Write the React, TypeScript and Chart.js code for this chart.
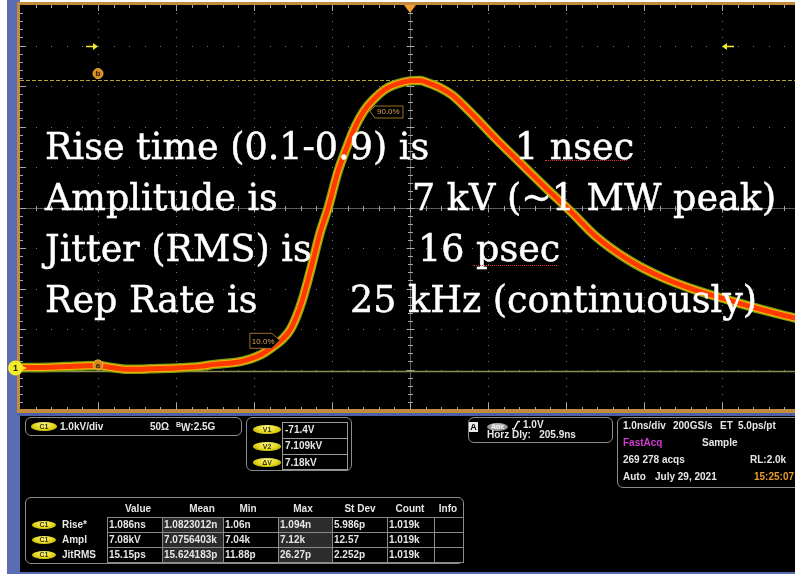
import React, { useEffect, useRef } from "react";
import { Chart, registerables } from "chart.js";
Chart.register(...registerables);

// ---- waveform (1.0 ns/div, 1.0 kV/div, trigger at centre) ----
const timeNs = [
  -5.0, -4.62, -4.23, -4.0, -3.85, -3.62, -3.33, -3.0, -2.69, -2.5, -2.18, -1.92,
  -1.76, -1.63, -1.54, -1.46, -1.385, -1.27, -1.154, -1.05, -0.923, -0.82, -0.705,
  -0.59, -0.474, -0.32, -0.19, 0.0, 0.13, 0.23, 0.385, 0.54, 0.667, 0.833, 1.09,
  1.385, 1.73, 2.08, 2.37, 2.8, 3.23, 3.65, 4.08, 4.51, 4.94, 5.0,
];
const pulseKV = [
  0.01, 0.02, 0.05, 0.06, 0.02, -0.03, -0.02, 0.0, 0.04, 0.09, 0.155, 0.32,
  0.52, 0.72, 0.93, 1.25, 1.65, 2.45, 3.33, 3.95, 4.85, 5.4, 5.95,
  6.35, 6.62, 6.88, 7.0, 7.09, 7.1, 7.04, 6.92, 6.74, 6.52, 6.2, 5.68,
  5.12, 4.47, 3.83, 3.27, 2.67, 2.24, 1.93, 1.68, 1.44, 1.23, 1.2,
];
const X_MIN = -5, X_MAX = 5;
const Y_MIN = -1.037, Y_MAX = 8.963;
const cursorA = -0.0714; // kV
const cursorB = 7.109; // kV
const cursorT = -4; // ns (cursor label column)
const gateT = [-4, 4];
const t10 = -1.63, t90 = -0.59;
const level10 = 0.708, level90 = 6.37;

// ---- overlay text ----
const bigLeft = ["Rise time (0.1-0.9) is", "Amplitude is", "Jitter (RMS) is", "Rep Rate is"];
const bigRight = ["1 nsec", "7 kV (~1 MW peak)", "16 psec", "25 kHz (continuously)"];

// ---- readout panels ----
const cursorLabels = ["V1", "V2", "ΔV"];
const cursorReadouts = ["-71.4V", "7.109kV", "7.18kV"];
const measHeaders = ["Value", "Mean", "Min", "Max", "St Dev", "Count", "Info"];
const measNames = ["Rise*", "Ampl", "JitRMS"];
const measValue = ["1.086ns", "7.08kV", "15.15ps"];
const measMean = ["1.0823012n", "7.0756403k", "15.624183p"];
const measMin = ["1.06n", "7.04k", "11.88p"];
const measMax = ["1.094n", "7.12k", "26.27p"];
const measStdDev = ["5.986p", "12.57", "2.252p"];
const measCount = ["1.019k", "1.019k", "1.019k"];
const measInfo = ["", "", ""];

const PF = '"Liberation Sans", Arial, sans-serif';

const scopePlugin = {
  id: "scope",
  beforeDatasetsDraw(chart: any) {
    const { ctx, chartArea: a, scales } = chart;
    const L = a.left, T = a.top, R = a.right, B = a.bottom;
    const dx = (R - L) / 10, dy = (B - T) / 10;
    ctx.save();
    ctx.fillStyle = "#787878";
    for (let i = 1; i < 10; i++) {
      if (i === 5) continue;
      const x = Math.round(L + i * dx);
      for (let k = 1; k < 50; k++) ctx.fillRect(x, Math.round(T + (k * dy) / 5), 1, 1);
    }
    for (let j = 1; j < 10; j++) {
      if (j === 5) continue;
      const y = Math.round(T + j * dy);
      for (let k = 1; k < 50; k++) ctx.fillRect(Math.round(L + (k * dx) / 5), y, 1, 1);
    }
    const seg = (x1: number, y1: number, x2: number, y2: number) => {
      ctx.beginPath();
      ctx.moveTo(x1, y1);
      ctx.lineTo(x2, y2);
      ctx.stroke();
    };
    const cx = Math.round(L + 5 * dx) + 0.5, cy = Math.round(T + 5 * dy) + 0.5;
    ctx.lineWidth = 1;
    ctx.strokeStyle = "#5e5e5e";
    seg(cx, T, cx, B);
    seg(L, cy, R, cy);
    ctx.strokeStyle = "#a8a8a8";
    for (let k = 1; k < 50; k++) {
      const y = Math.round(T + (k * dy) / 5) + 0.5;
      const len = k % 5 === 0 ? 4 : 2.5;
      seg(cx - len, y, cx + len, y);
      seg(L, y, L + (k % 5 === 0 ? 6 : 3), y);
      const x = Math.round(L + (k * dx) / 5) + 0.5;
      seg(x, cy - len, x, cy + len);
      seg(x, T, x, T + (k % 5 === 0 ? 6 : 3));
      seg(x, B, x, B - (k % 5 === 0 ? 7 : 3));
    }
    // cursors
    const yb = Math.round(scales.y.getPixelForValue(cursorB)) + 0.5;
    ctx.strokeStyle = "#b4a832";
    ctx.setLineDash([4, 2]);
    seg(L, yb, R, yb);
    ctx.setLineDash([]);
    const ya = Math.round(scales.y.getPixelForValue(cursorA)) + 0.5;
    ctx.strokeStyle = "#8a8c52";
    ctx.lineWidth = 1.5;
    seg(L, ya, R, ya);
    ctx.restore();
  },
  afterDatasetsDraw(chart: any) {
    const { ctx, chartArea: a, scales } = chart;
    const T = a.top, dy = (a.bottom - a.top) / 10;
    ctx.save();
    // trigger position marker
    const tx = scales.x.getPixelForValue(0);
    ctx.fillStyle = "#f0a030";
    ctx.beginPath();
    ctx.moveTo(tx - 6, T);
    ctx.lineTo(tx + 6, T);
    ctx.lineTo(tx, T + 8);
    ctx.closePath();
    ctx.fill();
    // gate arrows
    const ay = Math.round(T + dy) + 0.5;
    ctx.strokeStyle = "#f2e830";
    ctx.fillStyle = "#f2e830";
    ctx.lineWidth = 1.5;
    const g1 = scales.x.getPixelForValue(gateT[0]);
    const g2 = scales.x.getPixelForValue(gateT[1]);
    ctx.beginPath(); ctx.moveTo(g1 - 12, ay); ctx.lineTo(g1 - 3, ay); ctx.stroke();
    ctx.beginPath(); ctx.moveTo(g1, ay); ctx.lineTo(g1 - 5, ay - 3.5); ctx.lineTo(g1 - 5, ay + 3.5); ctx.closePath(); ctx.fill();
    ctx.beginPath(); ctx.moveTo(g2 + 12, ay); ctx.lineTo(g2 + 3, ay); ctx.stroke();
    ctx.beginPath(); ctx.moveTo(g2, ay); ctx.lineTo(g2 + 5, ay - 3.5); ctx.lineTo(g2 + 5, ay + 3.5); ctx.closePath(); ctx.fill();
    // cursor tags a / b
    const cxp = scales.x.getPixelForValue(cursorT);
    const tag = (y: number, s: string) => {
      ctx.beginPath();
      ctx.arc(cxp, y, 5, 0, Math.PI * 2);
      ctx.fillStyle = "#d88a22";
      ctx.fill();
      ctx.strokeStyle = "#f0b040";
      ctx.lineWidth = 1;
      ctx.stroke();
      ctx.fillStyle = "#3a2000";
      ctx.font = "bold 8px " + PF;
      ctx.textAlign = "center";
      ctx.textBaseline = "middle";
      ctx.fillText(s, cxp, y + 0.5);
    };
    tag(scales.y.getPixelForValue(cursorB) - 6.5, "b");
    tag(scales.y.getPixelForValue(cursorA) - 6, "a");
    // ground marker
    const gy = scales.y.getPixelForValue(0);
    ctx.fillStyle = "#f4ec28";
    ctx.beginPath(); ctx.moveTo(20, gy - 3); ctx.lineTo(27, gy); ctx.lineTo(20, gy + 3); ctx.closePath(); ctx.fill();
    ctx.beginPath();
    ctx.arc(15.5, gy, 7.5, 0, Math.PI * 2);
    ctx.fillStyle = "#f4ec28";
    ctx.fill();
    ctx.fillStyle = "#202000";
    ctx.font = "bold 9px " + PF;
    ctx.textAlign = "center";
    ctx.textBaseline = "middle";
    ctx.fillText("1", 15.5, gy + 0.5);
    // percent labels
    ctx.font = "8px " + PF;
    ctx.textBaseline = "middle";
    ctx.textAlign = "left";
    const p10x = scales.x.getPixelForValue(t10), p10y = scales.y.getPixelForValue(level10);
    ctx.strokeStyle = "#9c6e2a";
    ctx.lineWidth = 1;
    ctx.beginPath();
    ctx.moveTo(p10x - 33, p10y - 6); ctx.lineTo(p10x - 11, p10y - 6); ctx.lineTo(p10x - 3, p10y + 1);
    ctx.lineTo(p10x - 11, p10y + 9); ctx.lineTo(p10x - 33, p10y + 9); ctx.closePath();
    ctx.fillStyle = "#000"; ctx.fill(); ctx.stroke();
    ctx.fillStyle = "#d6a458";
    ctx.fillText("10.0%", p10x - 31, p10y + 2);
    const p90x = scales.x.getPixelForValue(t90), p90y = scales.y.getPixelForValue(level90);
    ctx.beginPath();
    ctx.moveTo(p90x + 6, p90y + 1); ctx.lineTo(p90x + 11, p90y - 4); ctx.lineTo(p90x + 39, p90y - 4);
    ctx.lineTo(p90x + 39, p90y + 8); ctx.lineTo(p90x + 11, p90y + 8); ctx.closePath();
    ctx.fillStyle = "#000"; ctx.fill(); ctx.stroke();
    ctx.fillStyle = "#d6a458";
    ctx.fillText("90.0%", p90x + 13, p90y + 2);
    ctx.restore();
  },
};

function Txt(props: { x: number; y: number; children: any; color?: string; size?: number; center?: boolean; bold?: boolean }) {
  const size = props.size ?? 10;
  return (
    <div
      style={{
        position: "absolute",
        left: props.x,
        top: props.y - 0.8465 * size,
        font: `${props.bold === false ? "normal" : "bold"} ${size}px ${PF}`,
        lineHeight: `${size}px`,
        color: props.color ?? "#e6e6e6",
        whiteSpace: "pre",
        transform: props.center ? "translateX(-50%)" : undefined,
      }}
    >
      {props.children}
    </div>
  );
}

function Pill(props: { x: number; y: number; w: number; h: number; label: string; grey?: boolean }) {
  return (
    <div
      style={{
        position: "absolute",
        left: props.x,
        top: props.y,
        width: props.w,
        height: props.h,
        borderRadius: "50%",
        background: props.grey
          ? "radial-gradient(ellipse at 50% 35%, #d0d0d0, #8a8a8a 70%, #5a5a5a)"
          : "radial-gradient(ellipse at 50% 30%, #fcf890, #e2d418 55%, #a89c00)",
        color: props.grey ? "#f4f4f4" : "#3c3600",
        font: `bold 7px ${PF}`,
        lineHeight: `${props.h}px`,
        textAlign: "center",
      }}
    >
      {props.label}
    </div>
  );
}

const box = (l: number, t: number, w: number, h: number): React.CSSProperties => ({
  position: "absolute",
  left: l,
  top: t,
  width: w,
  height: h,
  border: "1.5px solid #8c8c8c",
  borderRadius: 6,
  boxSizing: "border-box",
});

const abs = (l: number, t: number, w: number, h: number, bg: string): React.CSSProperties => ({
  position: "absolute",
  left: l,
  top: t,
  width: w,
  height: h,
  background: bg,
});

export default function App() {
  const ref = useRef<HTMLCanvasElement>(null);
  useEffect(() => {
    const canvas = ref.current!;
    const pts = timeNs.map((t, i) => ({ x: t, y: pulseKV[i] }));
    const layer = (color: string, width: number, order: number) => ({
      data: pts,
      borderColor: color,
      borderWidth: width,
      pointRadius: 0,
      cubicInterpolationMode: "monotone" as const,
      order,
      fill: false,
      borderCapStyle: "round" as const,
      borderJoinStyle: "round" as const,
    });
    const chart = new Chart(canvas, {
      type: "line",
      data: {
        datasets: [layer("#ff3a00", 5, 0), layer("#ffb400", 7, 1), layer("#7e9e14", 9.5, 2)],
      },
      options: {
        responsive: false,
        animation: false,
        devicePixelRatio: 1,
        layout: { padding: { left: 20, top: 5, right: 0, bottom: 164 } },
        scales: {
          x: { type: "linear", min: X_MIN, max: X_MAX, display: false },
          y: { type: "linear", min: Y_MIN, max: Y_MAX, display: false },
        },
        plugins: { legend: { display: false }, tooltip: { enabled: false } },
        events: [],
      },
      plugins: [scopePlugin],
    } as any);
    return () => chart.destroy();
  }, []);

  const colEdges = [107, 162, 223, 278, 332, 387, 434, 463];
  const headerX = [138, 202, 248, 303, 360, 410, 448];
  const rowTops = [517, 532, 547, 562];
  const measCols = [measValue, measMean, measMin, measMax, measStdDev, measCount, measInfo];
  const bigBase = [160, 211, 262, 313];
  const bigRightX = [515, 412, 418, 350];
  const bigFont = 36.5;
  const bigStyle = (x: number, i: number): React.CSSProperties => ({
    position: "absolute",
    left: x,
    top: bigBase[i] - 0.846 * bigFont,
    font: `${bigFont}px "DejaVu Serif", serif`,
    lineHeight: `${bigFont}px`,
    color: "#fff",
    whiteSpace: "pre",
    WebkitTextStroke: "0.5px #fff",
  });

  return (
    <div style={{ position: "absolute", left: 0, top: 0, width: 795, height: 574, overflow: "hidden", background: "#fff" }}>
      <div style={abs(7, 0, 13, 574, "#5a6db2")} />
      <div style={abs(17, 2, 790, 411, "#c48a3c")} />
      <div style={abs(20, 5, 790, 404, "#000")} />
      <div style={abs(17, 413, 790, 3, "#4d5fa8")} />
      <div style={abs(20, 416, 790, 156, "#000")} />
      <div style={abs(7, 572, 790, 2, "#5a6db2")} />
      <canvas ref={ref} width={800} height={574} style={{ position: "absolute", left: 0, top: 0, width: 800, height: 574 }} />

      {/* big annotation text */}
      {bigLeft.map((s, i) => (
        <div key={"l" + i} style={bigStyle(45, i)}>
          {s}
        </div>
      ))}
      {bigRight.map((s, i) => (
        <div key={"r" + i} style={bigStyle(bigRightX[i], i)}>
          {s}
        </div>
      ))}
      <div style={{ position: "absolute", left: 545, top: 160, width: 82, height: 0, borderTop: "1.5px dotted #e03030" }} />
      <div style={{ position: "absolute", left: 473, top: 265, width: 84, height: 0, borderTop: "1.5px dotted #e03030" }} />

      {/* channel box */}
      <div style={box(25, 417, 217, 19)} />
      <Pill x={31} y={422} w={26} h={9} label="C1" />
      <Txt x={60} y={430}>1.0kV/div</Txt>
      <Txt x={150} y={430}>50Ω</Txt>
      <Txt x={176} y={430}>
        <span style={{ fontSize: 7, position: "relative", top: -3 }}>B</span>
        <span style={{ position: "relative", top: 1 }}>W</span>:2.5G
      </Txt>

      {/* cursor box */}
      <div style={box(246, 417, 106, 54)} />
      <div style={{ position: "absolute", left: 282, top: 422, width: 66, height: 48, border: "1px solid #9a9a9a", boxSizing: "border-box" }} />
      <div style={abs(282, 438, 66, 1, "#9a9a9a")} />
      <div style={abs(282, 454, 66, 1, "#9a9a9a")} />
      {cursorLabels.map((s, i) => (
        <Pill key={s} x={253} y={425 + i * 16.5} w={28} h={9} label={s} />
      ))}
      {cursorReadouts.map((s, i) => (
        <Txt key={s} x={285} y={433 + i * 16.5}>
          {s}
        </Txt>
      ))}

      {/* trigger box */}
      <div style={box(468, 417, 145, 26)} />
      <div style={{ position: "absolute", left: 469, top: 422, width: 9, height: 10, background: "#e8e8e8", color: "#000", font: `bold 9px ${PF}`, lineHeight: "10px", textAlign: "center" }}>A</div>
      <Pill x={487} y={423} w={21} h={8} label="Aux" grey />
      <svg style={{ position: "absolute", left: 511, top: 420 }} width={10} height={11}>
        <polyline points="1,9 3,9 7,1.5 9,1.5" fill="none" stroke="#e6e6e6" strokeWidth={1.5} />
      </svg>
      <Txt x={523} y={428}>1.0V</Txt>
      <Txt x={487} y={438}>Horz Dly:   205.9ns</Txt>

      {/* horizontal / acquisition box */}
      <div style={{ ...box(617, 417, 200, 71) }} />
      <Txt x={623} y={429}>1.0ns/div</Txt>
      <Txt x={673} y={429}>200GS/s</Txt>
      <Txt x={720} y={429}>ET</Txt>
      <Txt x={738} y={429}>5.0ps/pt</Txt>
      <Txt x={623} y={446} color="#d43cd0">FastAcq</Txt>
      <Txt x={702} y={446}>Sample</Txt>
      <Txt x={623} y={463.5}>269 278 acqs</Txt>
      <Txt x={750} y={463.5}>RL:2.0k</Txt>
      <Txt x={623} y={480.5}>Auto</Txt>
      <Txt x={655} y={480.5}>July 29, 2021</Txt>
      <Txt x={754} y={480.5} color="#e89a30">15:25:07</Txt>

      {/* measurement table */}
      <div style={box(25, 497, 439, 67)} />
      {measHeaders.map((h, i) => (
        <Txt key={h} x={headerX[i]} y={512} center>
          {h}
        </Txt>
      ))}
      {measCols.map((col, c) =>
        col.map((v, r) => (
          <div
            key={c + "-" + r}
            style={{
              position: "absolute",
              left: colEdges[c],
              top: rowTops[r],
              width: colEdges[c + 1] - colEdges[c] + 1,
              height: rowTops[r + 1] - rowTops[r] + 1,
              border: "1px solid #8a8a8a",
              boxSizing: "border-box",
              background: c === 1 || c === 3 ? "#2c2c2c" : "#000",
            }}
          />
        ))
      )}
      {measCols.map((col, c) =>
        col.map((v, r) => (
          <Txt key={"t" + c + "-" + r} x={colEdges[c] + 2} y={528 + r * 15}>
            {v}
          </Txt>
        ))
      )}
      {measNames.map((n, r) => (
        <React.Fragment key={n}>
          <Pill x={32} y={520.5 + r * 15} w={24} h={8} label="C1" />
          <Txt x={62} y={528 + r * 15}>{n}</Txt>
        </React.Fragment>
      ))}
    </div>
  );
}
